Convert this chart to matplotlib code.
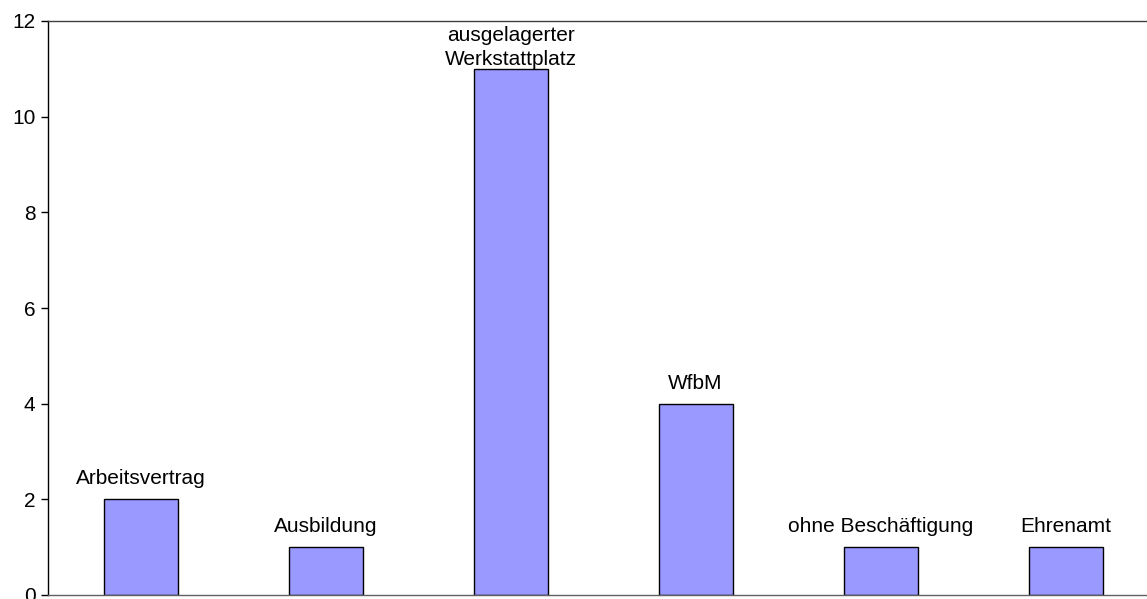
import matplotlib
matplotlib.use("Agg")
import matplotlib.pyplot as plt

kategorien = ["Arbeitsvertrag", "Ausbildung", "ausgelagerter\nWerkstattplatz",
              "WfbM", "ohne Beschäftigung", "Ehrenamt"]
anzahl = [2, 1, 11, 4, 1, 1]
# Abstand der Beschriftung über dem Balken (pt)
abstand = [8, 8, 0, 8, 8, 8]

plt.rcParams["font.family"] = ["Liberation Sans", "DejaVu Sans"]

fig = plt.figure(figsize=(11.47, 5.99), dpi=100)
ax = fig.add_axes([48 / 1147, 4 / 599, 1110 / 1147, 574 / 599])

x = range(len(kategorien))
ax.bar(x, anzahl, width=0.4, color="#9999FF", edgecolor="black", linewidth=1)

for i, (name, wert) in enumerate(zip(kategorien, anzahl)):
    ax.annotate(name, (i, wert), xytext=(0, abstand[i]), textcoords="offset points",
                ha="center", va="bottom", fontsize=15, linespacing=1.3)

ax.set_xlim(-0.5, 5.5)
ax.set_ylim(0, 12)
ax.set_yticks(range(0, 13, 2))
ax.set_xticks([])
ax.tick_params(axis="y", labelsize=15, length=5, width=1, pad=4)

ax.spines["right"].set_visible(False)
ax.spines["top"].set_color("#404040")
ax.spines["bottom"].set_color("#606060")
for s in ax.spines.values():
    s.set_linewidth(1)

fig.savefig("out.png", dpi=100)
